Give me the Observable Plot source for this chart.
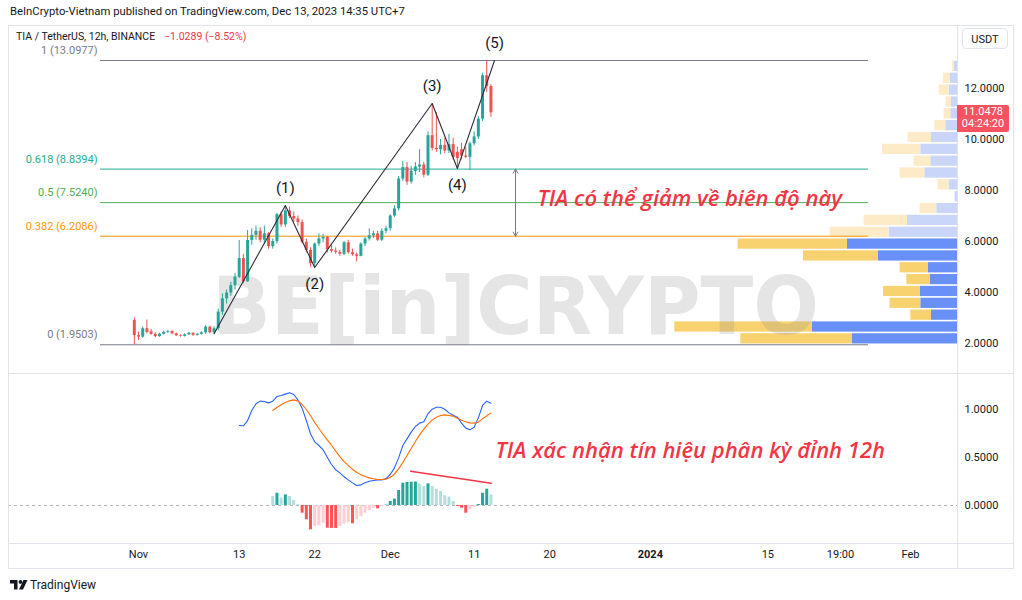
<!DOCTYPE html>
<html><head><meta charset="utf-8">
<script src="https://cdn.jsdelivr.net/npm/d3@7"></script>
<script src="https://cdn.jsdelivr.net/npm/@observablehq/plot@0.6"></script>
<style>
html,body{margin:0;padding:0;background:#fff;}
#wrap{position:relative;width:1022px;height:600px;overflow:hidden;font-family:Roboto,"Noto Sans",sans-serif;color:#131722;}
#wrap svg{position:absolute;}
.lbl{position:absolute;white-space:nowrap;}
</style></head><body><div id="wrap"></div>
<script>
// ---------- DATA ----------
const candleStart = "2023-10-31T12:00:00Z";
const candleHours = 12;
const open  = [2.90,2.31,2.25,2.58,2.46,2.36,2.27,2.36,2.44,2.47,2.38,2.30,2.28,2.34,2.40,2.32,2.36,2.42,2.64,2.42,
               2.58,3.23,3.75,3.98,4.27,4.60,5.33,4.42,6.04,6.24,6.40,6.05,6.30,5.80,6.00,7.05,6.65,7.20,6.98,6.88,
               6.74,5.97,5.65,5.13,5.90,6.10,6.16,5.68,5.62,5.57,5.50,5.95,5.56,5.48,5.42,5.90,6.10,6.22,6.30,6.05,
               6.40,6.50,7.00,7.28,8.45,8.90,8.33,8.75,8.92,9.00,8.60,10.15,9.65,9.60,9.77,9.55,9.80,9.50,9.60,9.35,
               9.30,9.83,10.10,10.80,12.50,12.0767];
const high  = [3.01,2.45,2.65,2.92,2.55,2.42,2.40,2.48,2.52,2.50,2.41,2.35,2.38,2.44,2.42,2.40,2.46,2.70,2.68,2.66,
               3.35,3.95,4.10,4.40,4.75,6.04,5.50,6.43,6.50,6.60,6.55,6.60,6.35,6.10,7.10,7.15,7.41,7.35,7.15,7.00,
               6.85,6.10,5.75,5.95,6.30,6.28,6.20,5.85,5.75,5.65,6.00,6.05,5.70,5.55,5.95,6.15,6.50,6.40,6.40,6.50,
               6.60,7.05,7.40,8.55,9.15,9.10,8.95,9.10,9.60,9.10,10.30,11.41,11.05,10.00,10.05,10.20,10.05,9.70,9.85,9.70,
               9.90,10.30,10.90,12.60,13.10,12.15];
const low   = [1.95,2.12,2.20,2.38,2.32,2.22,2.24,2.33,2.40,2.35,2.27,2.25,2.25,2.31,2.28,2.29,2.33,2.35,2.38,2.36,
               2.50,3.10,3.55,3.85,4.10,4.55,4.35,4.40,5.85,6.05,5.95,5.90,5.70,5.70,5.90,6.55,6.55,6.90,6.75,6.60,
               5.90,5.55,4.99,4.98,5.80,5.95,5.55,5.55,5.50,5.42,5.45,5.50,5.42,5.20,5.40,5.80,6.02,6.12,6.00,6.00,
               6.30,6.40,6.95,7.20,8.35,8.20,8.25,8.60,8.70,8.50,8.55,9.55,9.50,9.40,9.45,9.45,9.20,8.86,9.20,9.25,
               8.78,9.75,10.00,10.70,11.85,10.87];
const close = [2.31,2.25,2.58,2.43,2.36,2.27,2.36,2.44,2.47,2.38,2.30,2.28,2.34,2.40,2.32,2.36,2.42,2.64,2.42,2.58,
               3.23,3.75,3.98,4.27,4.60,5.33,4.42,6.04,6.24,6.40,6.05,6.30,5.80,6.00,7.05,6.65,7.20,6.98,6.88,6.74,
               5.97,5.65,5.13,5.90,6.10,6.16,5.68,5.62,5.57,5.50,5.95,5.56,5.48,5.42,5.90,6.10,6.22,6.30,6.05,6.40,
               6.50,7.00,7.28,8.45,8.90,8.33,8.75,8.92,9.00,8.60,10.15,9.65,9.60,9.77,9.55,9.80,9.30,9.25,9.35,9.30,
               9.83,10.10,10.80,12.50,12.0767,11.0478];

const macdStartIndex = 25;
const macdLine = [0.833,0.830,0.885,0.990,1.059,1.087,1.083,1.069,1.087,1.135,1.146,1.160,1.174,1.156,1.100,1.014,
                  0.885,0.747,0.663,0.625,0.580,0.503,0.427,0.372,0.340,0.299,0.267,0.236,0.208,0.215,0.236,0.253,
                  0.260,0.267,0.267,0.281,0.323,0.392,0.496,0.625,0.694,0.764,0.823,0.858,0.872,0.955,1.003,1.024,
                  1.024,1.003,0.965,0.941,0.920,0.858,0.806,0.788,0.816,0.913,1.042,1.087,1.066];
const signalStartIndex = 33;
const signalLine = [0.990,1.021,1.049,1.073,1.090,1.100,1.090,1.052,1.000,0.938,0.865,0.802,0.740,0.684,0.628,0.566,
                    0.510,0.458,0.417,0.378,0.347,0.319,0.302,0.288,0.278,0.271,0.271,0.274,0.295,0.326,0.382,0.448,
                    0.521,0.594,0.667,0.736,0.795,0.847,0.889,0.920,0.938,0.944,0.938,0.931,0.910,0.889,0.872,0.861,
                    0.858,0.868,0.903,0.934,0.962];
const histogram = [0.094,0.128,0.076,0.111,0.094,0.052,0.008,-0.080,-0.149,-0.253,-0.219,-0.210,-0.184,-0.236,-0.238,-0.240,
                   -0.219,-0.195,-0.180,-0.190,-0.149,-0.115,-0.080,-0.052,-0.028,-0.035,-0.010,0.005,0.042,0.066,0.156,0.233,
                   0.240,0.242,0.245,0.222,0.198,0.226,0.198,0.170,0.146,0.101,0.087,0.042,-0.010,-0.028,-0.080,-0.045,
                   -0.017,0.010,0.128,0.170,0.111];

const fibRatios = [1, 0.618, 0.5, 0.382, 0];
const fibPrices = [13.0977, 8.8394, 7.5240, 6.2086, 1.9503];
const fibColors = ["#787b86", "#22ab94", "#4caf50", "#ff9800", "#787b86"];
const fibFrom = "2023-10-27T11:20:00Z";
const fibTo   = "2024-01-27T00:00:00Z";

const waveLabels = ["", "(1)", "(2)", "(3)", "(4)", "(5)"];
const waveTimes  = ["2023-11-10T00:00:00Z","2023-11-18T12:00:00Z","2023-11-22T00:00:00Z","2023-12-06T00:00:00Z","2023-12-09T00:00:00Z","2023-12-13T10:20:00Z"];
const wavePrices = [2.38, 7.41, 4.98, 11.41, 8.86, 13.10];

const arrowTime = "2023-12-15T22:20:00Z";
const note1 = {t: "2023-12-18T13:10:00Z", v: 7.65, text: "TIA có thể giảm về biên độ này"};
const note2 = {t: "2023-12-13T13:10:00Z", v: 0.573, text: "TIA xác nhận tín hiệu phân kỳ đỉnh 12h"};
const divergenceTimes = ["2023-12-03T10:00:00Z", "2023-12-13T00:45:00Z"];
const divergenceValues = [0.357, 0.232];

// volume profile (24 rows from 1.9503 to 13.0977), arbitrary volume units
const volUp   = [10.5,14.5,2.6,3.67,3.74,2.74,2.9,7.9,11.0,6.84,5.0,2.07,0.24,0.84,3.27,2.67,3.67,2.6,1.17,0.67,0.6,0.84,0.74,0.34];
const volDown = [11.17,13.77,2.07,3.07,3.66,2.33,2.84,7.5,10.94,5.9,4.34,1.67,0,1.1,2.47,1.67,3.83,2.34,1.1,0.67,0.54,1.0,0.66,0.16];
const valueAreaTopRow = 8;

const priceTicks = [2, 4, 6, 8, 10, 12];
const macdTicks = [0, 0.5, 1];
const timeTicks = ["2023-11-01","2023-11-13","2023-11-22","2023-12-01","2023-12-11","2023-12-20","2024-01-01","2024-01-15","2024-01-23T15:50:00Z","2024-02-01"];
const timeTickLabels = ["Nov","13","22","Dec","11","20","2024","15","19:00","Feb"];
const boldTick = "2024";

const xDomain = [new Date("2023-10-16T12:10:00Z"), new Date("2024-02-06T14:30:00Z")];
const priceDomain = [0.7843, 14.4706];
const macdDomain = [-0.40625, 1.3646];
const volDomain = [0, 94.9];

// ---------- BUILD ----------
const UP = "#26a69a", DN = "#ef5350";
const FONT = "Roboto, 'Noto Sans', sans-serif";
const t0 = new Date(candleStart).getTime();
const candles = open.map((o, i) => ({t: new Date(t0 + i * candleHours * 3600e3), o, h: high[i], l: low[i], c: close[i]}));
const fibs = fibRatios.map((r, i) => ({r, p: fibPrices[i], color: fibColors[i], x1: new Date(fibFrom), x2: new Date(fibTo)}));
const wave = waveTimes.map((t, i) => ({t: new Date(t), p: wavePrices[i], label: waveLabels[i], above: i > 0 && wavePrices[i] > wavePrices[i - 1]}));
const midArrow = (fibPrices[1] + fibPrices[3]) / 2;
const arrows = [fibPrices[1], fibPrices[3]].map(p => ({t: new Date(arrowTime), a: midArrow, b: p}));
const macdData = macdLine.map((v, j) => ({t: candles[macdStartIndex + j].t, v}));
const sigData = signalLine.map((v, j) => ({t: candles[signalStartIndex + j].t, v}));
const histData = histogram.map((v, j) => {
  const prev = j > 0 ? histogram[j - 1] : v;
  return {t: candles[signalStartIndex + j].t, v,
    color: v >= 0 ? (v > prev ? "#26a69a" : "#b2dfdb") : (v < prev ? "#ff5252" : "#ffcdd2")};
});
const divData = divergenceTimes.map((t, i) => ({t: new Date(t), v: divergenceValues[i]}));
const ticks = timeTicks.map((t, i) => ({t: new Date(t), label: timeTickLabels[i]}));
const binH = (fibPrices[0] - fibPrices[4]) / volUp.length;
const rows = volUp.map((u, k) => ({lo: fibPrices[4] + k * binH, hi: fibPrices[4] + (k + 1) * binH, up: u, tot: u + volDown[k], va: k <= valueAreaTopRow}));

const wrap = document.getElementById("wrap");
const baseStyle = {background: "transparent", overflow: "visible", fontFamily: FONT, fontSize: "11px", color: "#131722"};

// volume profile (beneath)
const vol = Plot.plot({
  width: 949, height: 349, margin: 0, style: baseStyle,
  x: {domain: volDomain, reverse: true, axis: null},
  y: {domain: priceDomain, axis: null},
  marks: [
    Plot.rect(rows, {x1: 0, x2: "up", y1: "lo", y2: "hi", fill: d => d.va ? "#6990f7" : "#c9d6fa", insetTop: 0.8, insetBottom: 0.8}),
    Plot.rect(rows, {x1: "up", x2: "tot", y1: "lo", y2: "hi", fill: d => d.va ? "#f9d270" : "#fdeac6", insetTop: 0.8, insetBottom: 0.8})
  ]
});
vol.style.left = "8px"; vol.style.top = "25px";
wrap.appendChild(vol);

// main price pane
const main = Plot.plot({
  width: 1006, height: 349, marginLeft: 0, marginRight: 57, marginTop: 0, marginBottom: 0, style: baseStyle,
  x: {type: "utc", domain: xDomain, axis: null},
  y: {domain: priceDomain, axis: null},
  color: {type: "identity"},
  marks: [
    Plot.ruleY(fibs, {y: "p", x1: "x1", x2: "x2", stroke: "color", strokeWidth: 1}),
    Plot.text(fibs, {x: "x1", y: "p", text: d => `${d.r} (${d.p.toFixed(4)})`, fill: "color", textAnchor: "end", dx: -3, dy: -10, fontSize: 11}),
    Plot.ruleX(candles, {x: "t", y1: "l", y2: "h", stroke: d => d.c >= d.o ? UP : DN, strokeWidth: 1}),
    Plot.ruleX(candles, {x: "t", y1: "o", y2: "c", stroke: d => d.c >= d.o ? UP : DN, strokeWidth: 3}),
    Plot.line(wave, {x: "t", y: "p", stroke: "#2a2e39", strokeWidth: 1.1}),
    Plot.text(wave.filter(d => d.label && d.above), {x: "t", y: "p", text: "label", dy: -17, fontSize: 15, fill: "#131722"}),
    Plot.text(wave.filter(d => d.label && !d.above), {x: "t", y: "p", text: "label", dy: 17, fontSize: 15, fill: "#131722"}),
    Plot.arrow(arrows, {x1: "t", x2: "t", y1: "a", y2: "b", stroke: "#787b86", strokeWidth: 1, headLength: 7}),
    Plot.text([note1], {x: d => new Date(d.t), y: "v", text: "text", textAnchor: "start", fill: "#f23645", fontSize: 22, fontStyle: "italic", fontWeight: 600, fontFamily: "'Open Sans', sans-serif"}),
    Plot.axisY(priceTicks, {anchor: "right", tickSize: 0, tickPadding: 7, tickFormat: d => d.toFixed(4), label: null, fontSize: 11})
  ]
});
main.style.left = "8px"; main.style.top = "25px";
// watermark behind candles
d3.select(main).insert("text", ":first-child")
  .attr("x", 204).attr("y", 309).attr("textLength", 607).attr("lengthAdjust", "spacingAndGlyphs")
  .attr("fill", "#8a8a8a").attr("fill-opacity", 0.22).attr("font-size", 80).attr("font-weight", 900)
  .attr("font-family", "'DejaVu Sans', sans-serif").attr("text-anchor", "start").text("BE[in]CRYPTO");
wrap.appendChild(main);

// MACD pane + time axis
const macd = Plot.plot({
  width: 1006, height: 195, marginLeft: 0, marginRight: 57, marginTop: 0, marginBottom: 25, style: baseStyle,
  x: {type: "utc", domain: xDomain, axis: null},
  y: {domain: macdDomain, axis: null},
  color: {type: "identity"},
  marks: [
    Plot.ruleY([0], {stroke: "#b2b5be", strokeDasharray: "3,3"}),
    Plot.ruleX(histData, {x: "t", y1: 0, y2: "v", stroke: "color", strokeWidth: 3}),
    Plot.line(macdData, {x: "t", y: "v", stroke: "#2962ff", strokeWidth: 1.1}),
    Plot.line(sigData, {x: "t", y: "v", stroke: "#ff6d00", strokeWidth: 1.1}),
    Plot.line(divData, {x: "t", y: "v", stroke: "#f23645", strokeWidth: 1.6}),
    Plot.text([note2], {x: d => new Date(d.t), y: "v", text: "text", textAnchor: "start", fill: "#f23645", fontSize: 22, fontStyle: "italic", fontWeight: 600, fontFamily: "'Open Sans', sans-serif"}),
    Plot.axisY(macdTicks, {anchor: "right", tickSize: 0, tickPadding: 7, tickFormat: d => d.toFixed(4), label: null, fontSize: 11}),
    Plot.text(ticks.filter(d => d.label !== boldTick), {x: "t", text: "label", frameAnchor: "bottom", dy: 13, fontSize: 11, fill: "#131722"}),
    Plot.text(ticks.filter(d => d.label === boldTick), {x: "t", text: "label", frameAnchor: "bottom", dy: 13, fontSize: 11, fontWeight: "bold", fill: "#131722"})
  ]
});
macd.style.left = "8px"; macd.style.top = "374px";
wrap.appendChild(macd);

// frame lines
const frame = d3.select(wrap).append("svg").attr("width", 1022).attr("height", 600).style("left", "0px").style("top", "0px").style("pointer-events", "none");
frame.append("rect").attr("x", 8.5).attr("y", 25.5).attr("width", 1005).attr("height", 543).attr("fill", "none").attr("stroke", "#e0e3eb");
frame.append("line").attr("x1", 957.5).attr("x2", 957.5).attr("y1", 25).attr("y2", 569).attr("stroke", "#e0e3eb");
frame.append("line").attr("x1", 8).attr("x2", 1014).attr("y1", 373.5).attr("y2", 373.5).attr("stroke", "#e0e3eb");
frame.append("line").attr("x1", 8).attr("x2", 1014).attr("y1", 543.5).attr("y2", 543.5).attr("stroke", "#e0e3eb");
// TradingView logo
const logo = frame.append("g").attr("transform", "translate(10,580)").attr("fill", "#131722");
logo.append("path").attr("d", "M0,0H7.5V9.5H4V3.5H0Z");
logo.append("circle").attr("cx", 10.5).attr("cy", 1.9).attr("r", 1.9);
logo.append("path").attr("d", "M13.5,0H17.5L13,9.5H9Z");
frame.append("text").attr("x", 30).attr("y", 589).attr("font-size", 12).attr("font-family", FONT).attr("fill", "#131722").text("TradingView");

// header & legend
function label(txt, css) { const d = document.createElement("div"); d.className = "lbl"; d.textContent = txt; Object.assign(d.style, css); wrap.appendChild(d); return d; }
label("BeInCrypto-Vietnam published on TradingView.com, Dec 13, 2023 14:35 UTC+7", {left: "10px", top: "5px", fontSize: "11.3px"});
label("TIA / TetherUS, 12h, BINANCE", {left: "16px", top: "30px", fontSize: "10.5px"});
label("\u22121.0289 (\u22128.52%)", {left: "164px", top: "30px", fontSize: "10.5px", color: "#f23645"});
label("USDT", {left: "962px", top: "28px", width: "46px", height: "21px", lineHeight: "21px", textAlign: "center", fontSize: "11px", border: "1px solid #e0e3eb", borderRadius: "4px", boxSizing: "border-box", background: "#fff"});
// last price tag, placed through the price scale
const yLast = 25 + main.scale("y").apply(close[close.length - 1]);
const tag = label("", {left: "957px", top: (yLast - 7.5) + "px", width: "52px", height: "27px", background: "#f7525f", color: "#fff", fontSize: "11px", textAlign: "center", lineHeight: "12px", paddingTop: "1px", boxSizing: "border-box", borderRadius: "0 2px 2px 0"});
tag.innerHTML = close[close.length - 1].toFixed(4) + "<br>04:24:20";
</script></body></html>
